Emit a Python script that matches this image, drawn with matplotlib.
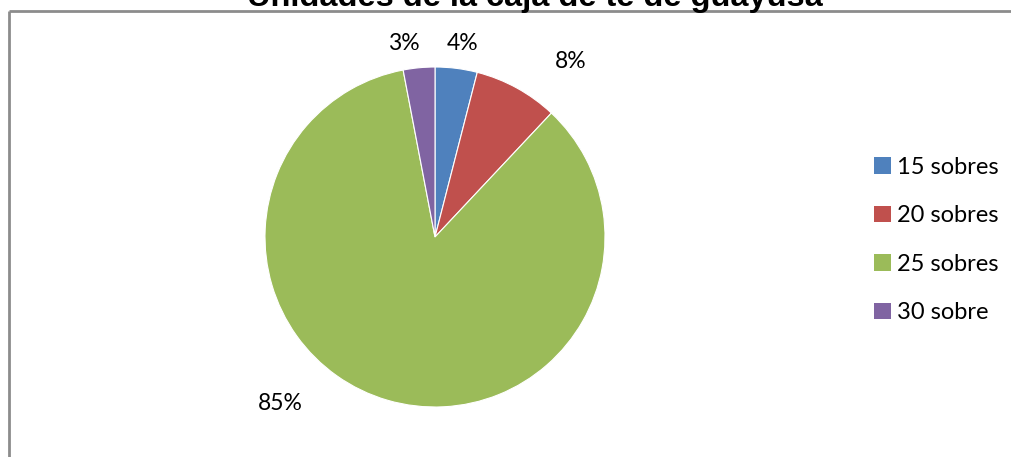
import matplotlib.pyplot as plt
from matplotlib.patches import Patch

# Unidades por caja (porcentajes)
categorias = ['15 sobres', '20 sobres', '25 sobres', '30 sobre']
porcentajes = [4, 8, 85, 3]
colores = ['#4f81bd', '#c0504d', '#9bbb59', '#8064a2']

# posiciones de las etiquetas de porcentaje (pixeles)
pos_etiquetas = [(463, 414), (571, 396), (280, 54), (404, 413)]

W, H = 1012, 457
fig = plt.figure(figsize=(W / 100, H / 100), dpi=100)
ax = fig.add_axes([0, 0, 1, 1])

wedges, textos = ax.pie(porcentajes, colors=colores, startangle=90, counterclock=False,
                        center=(435, H - 237), radius=170,
                        wedgeprops=dict(edgecolor='white', linewidth=0.8))

for pct, (x, y) in zip(porcentajes, pos_etiquetas):
    ax.text(x, y, f'{pct}%', ha='center', va='center', fontsize=16.5, family='Lato')

ax.set_xlim(0, W)
ax.set_ylim(0, H)
ax.set_aspect('equal')
ax.axis('off')

# borde del grafico
ax.plot([9, 9], [0, H - 11], color='#8c8c8c', lw=2, solid_capstyle='butt')
ax.plot([9, W], [H - 11, H - 11], color='#8c8c8c', lw=2, solid_capstyle='butt')

ax.text(535, H - 6, 'Unidades de la caja de te de guayusa', ha='center', va='baseline',
        fontsize=23.4, fontweight='bold', family='Liberation Sans')

handles = [Patch(facecolor=c, edgecolor='none') for c in colores]
ax.legend(handles, categorias, loc='center left', bbox_to_anchor=(853, H - 240),
          bbox_transform=ax.transData, frameon=False,
          prop={'family': 'Lato', 'size': 17}, handlelength=0.7, handleheight=0.7,
          handletextpad=0.25, labelspacing=1.17)

fig.savefig('out.png', dpi=100)
